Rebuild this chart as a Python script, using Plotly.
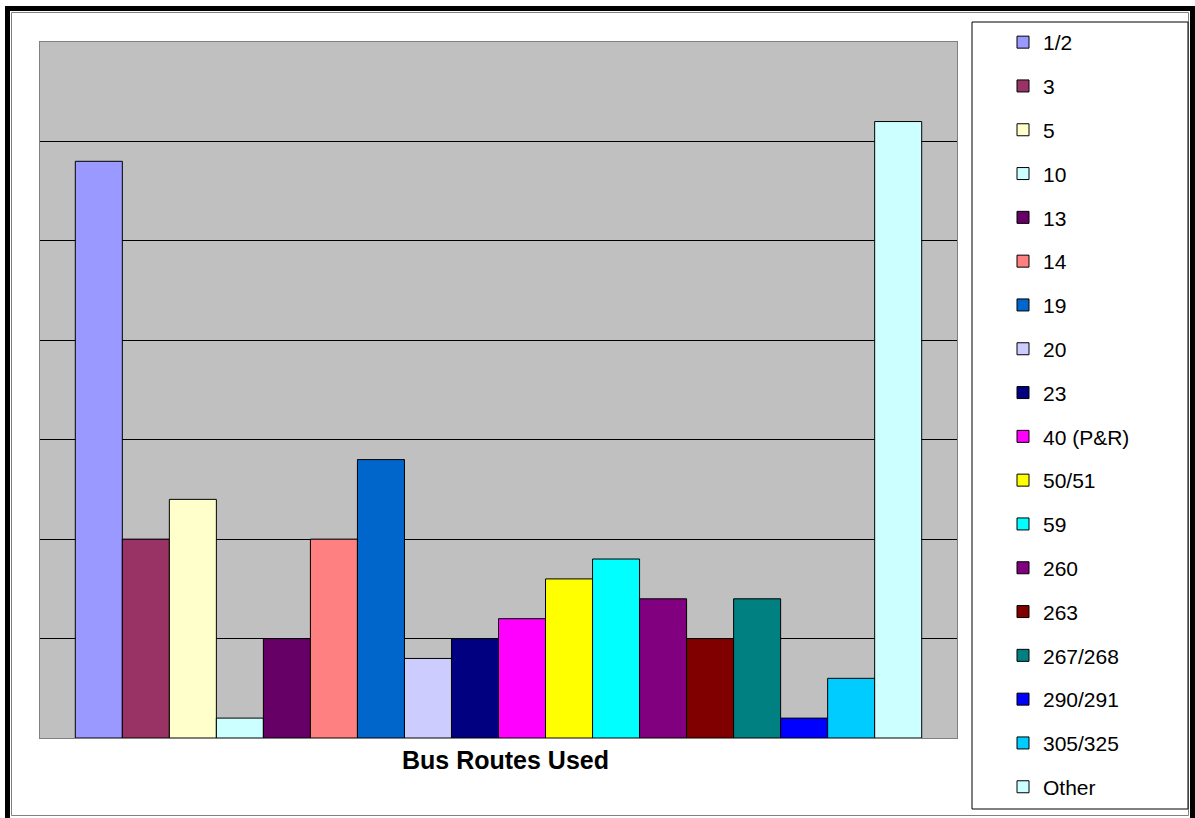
import plotly.graph_objects as go

routes = ["1/2", "3", "5", "10", "13", "14", "19", "20", "23", "40 (P&R)",
          "50/51", "59", "260", "263", "267/268", "290/291", "305/325", "Other"]
counts = [29, 10, 12, 1, 5, 10, 14, 4, 5, 6, 8, 9, 7, 5, 7, 1, 3, 31]
colors = ["#9999FF", "#993366", "#FFFFCC", "#CCFFFF", "#660066", "#FF8080",
          "#0066CC", "#CCCCFF", "#000080", "#FF00FF", "#FFFF00", "#00FFFF",
          "#800080", "#800000", "#008080", "#0000FF", "#00CCFF", "#CCFFFF"]
category = "Bus Routes Used"

W, H = 1195, 818
L, R, T, B = 40, 957, 42, 738


def px(x):
    return (x - L) / (R - L)


def py(y):
    return (B - y) / (B - T)


fig = go.Figure()
for i, (name, val, col) in enumerate(zip(routes, counts, colors)):
    fig.add_trace(go.Bar(
        x=[category], y=[val], name=name, legendgroup=f"g{i}",
        marker=dict(color=col, line=dict(color="#000000", width=1)),
    ))

shapes = [
    dict(type="rect", xref="paper", yref="paper",
         x0=px(7.5), x1=px(1192.5), y0=py(8.5), y1=py(821),
         line=dict(color="#000000", width=5), fillcolor="rgba(0,0,0,0)", layer="above"),
    dict(type="rect", xref="paper", yref="paper",
         x0=px(11.5), x1=px(1188.5), y0=py(12.5), y1=py(815.5),
         line=dict(color="#808080", width=1), fillcolor="rgba(0,0,0,0)", layer="above"),
    dict(type="rect", xref="paper", yref="paper",
         x0=px(972), x1=px(1188), y0=py(22), y1=py(809),
         line=dict(color="#000000", width=1), fillcolor="rgba(0,0,0,0)", layer="above"),
]

fig.update_layout(
    width=W, height=H,
    margin=dict(l=L, r=W - R, t=T, b=H - B, pad=0),
    paper_bgcolor="#FFFFFF",
    plot_bgcolor="#C0C0C0",
    barmode="group",
    bargap=0.077,
    bargroupgap=0,
    font=dict(family="Liberation Sans, Arial, sans-serif", color="#000000"),
    showlegend=True,
    legend=dict(
        x=px(1003), y=py(22), xanchor="left", yanchor="top",
        traceorder="grouped", tracegroupgap=13.5, maxheight=810,
        font=dict(size=21, color="#000000"),
        bgcolor="rgba(0,0,0,0)", borderwidth=0,
    ),
    shapes=shapes,
)
fig.update_xaxes(
    showgrid=False, zeroline=False,
    showline=True, mirror=True, linecolor="#808080", linewidth=1,
    ticks="", ticklabelshift=7,
    tickfont=dict(size=25, weight="bold", color="#000000"),
)
fig.update_yaxes(
    range=[0, 35], dtick=5, showticklabels=False, ticks="",
    showgrid=True, gridcolor="#000000", gridwidth=1, zeroline=False,
    showline=True, mirror=True, linecolor="#808080", linewidth=1,
)

fig.write_html("out.html",
               config={"displayModeBar": False},
               post_script="document.body.style.margin='0';document.body.style.overflow='hidden';")
